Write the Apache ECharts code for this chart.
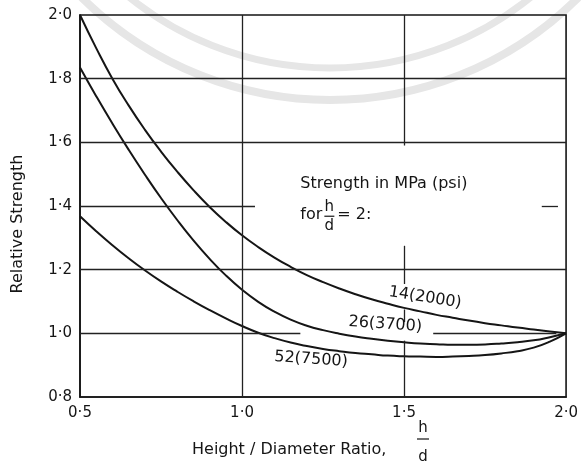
<!DOCTYPE html>
<html>
<head>
<meta charset="utf-8">
<title>Relative Strength vs Height / Diameter Ratio</title>
<script src="https://cdn.jsdelivr.net/npm/echarts@6/dist/echarts.min.js"></script>
<style>
  html, body { margin: 0; padding: 0; background: #ffffff; }
  #chart { width: 581px; height: 471px; }
</style>
</head>
<body>
<div id="chart"></div>
<script>
// Height / diameter ratio (h/d) sampled along each curve
const ratio = [0.5, 0.55, 0.6, 0.65, 0.7, 0.75, 0.8, 0.85, 0.9, 0.95, 1.0,
               1.05, 1.1, 1.15, 1.2, 1.25, 1.3, 1.35, 1.4, 1.45, 1.5,
               1.55, 1.6, 1.65, 1.7, 1.75, 1.8, 1.85, 1.9, 1.95, 2.0];

// Relative strength for each concrete strength class (at h/d = 2)
const strength14 = [2.0, 1.896, 1.8, 1.716, 1.64, 1.571, 1.508, 1.45, 1.397, 1.35, 1.308,
                    1.271, 1.238, 1.209, 1.183, 1.161, 1.141, 1.123, 1.107, 1.093, 1.08,
                    1.069, 1.058, 1.049, 1.04, 1.032, 1.025, 1.018, 1.012, 1.006, 1.0];
const strength26 = [1.835, 1.745, 1.659, 1.577, 1.499, 1.425, 1.356, 1.292, 1.234, 1.182, 1.137,
                    1.099, 1.068, 1.043, 1.024, 1.01, 0.999, 0.99, 0.983, 0.977, 0.972,
                    0.968, 0.966, 0.964, 0.964, 0.965, 0.968, 0.972, 0.978, 0.988, 1.0];
const strength52 = [1.368, 1.321, 1.277, 1.236, 1.198, 1.163, 1.131, 1.101, 1.073, 1.047, 1.023,
                    1.002, 0.985, 0.971, 0.96, 0.951, 0.944, 0.938, 0.934, 0.93, 0.928,
                    0.927, 0.926, 0.927, 0.929, 0.932, 0.937, 0.944, 0.955, 0.974, 1.0];

// Curve labels: MPa (psi)
const curveLabels = ['14(2000)', '26(3700)', '52(7500)'];
const noteTitle = 'Strength in MPa (psi)';
const xAxisTitle = 'Height / Diameter Ratio,';
const yAxisTitle = 'Relative Strength';

const INK = '#151515';
const FONT = '"DejaVu Sans", "Liberation Sans", sans-serif';

function pairs(ys) { return ratio.map((x, i) => [x, ys[i]]); }
function fmt(v) { return v.toFixed(1).replace('.', '\u00b7'); }

// Grid rules, drawn as segments so they break around the lettering
function hSeg(y, x1, x2) { return [{ coord: [x1, y] }, { coord: [x2, y] }]; }
function vSeg(x, y1, y2) { return [{ coord: [x, y1] }, { coord: [x, y2] }]; }
const gridRules = [
  hSeg(1.8, 0.5, 2.0),
  hSeg(1.6, 0.5, 2.0),
  hSeg(1.4, 0.5, 1.04), hSeg(1.4, 1.925, 1.975),
  hSeg(1.2, 0.5, 2.0),
  hSeg(1.0, 0.5, 1.18), hSeg(1.0, 1.59, 1.97),
  vSeg(1.0, 0.8, 2.0),
  vSeg(1.5, 1.59, 2.0), vSeg(1.5, 1.155, 1.275), vSeg(1.5, 1.035, 1.075), vSeg(1.5, 0.8, 0.977)
];

const chart = echarts.init(document.getElementById('chart'), null, { renderer: 'canvas' });

function curve(ys) {
  return {
    type: 'line',
    data: pairs(ys),
    smooth: 0.5,
    symbol: 'none',
    silent: true,
    lineStyle: { color: INK, width: 2 },
    z: 4
  };
}

chart.setOption({
  animation: false,
  backgroundColor: '#ffffff',
  grid: {
    left: 80, right: 11, top: 15, bottom: 74,
    show: true, borderColor: INK, borderWidth: 1.6, backgroundColor: 'transparent'
  },
  xAxis: {
    type: 'value', min: 0.5, max: 2.0, interval: 0.5,
    axisLine: { show: true, lineStyle: { color: INK, width: 1.6 } },
    axisTick: { show: false },
    splitLine: { show: false },
    axisLabel: { color: INK, fontFamily: FONT, fontSize: 15, margin: 9, formatter: fmt,
                 showMinLabel: true, showMaxLabel: true }
  },
  yAxis: {
    type: 'value', min: 0.8, max: 2.0, interval: 0.2,
    axisLine: { show: true, lineStyle: { color: INK, width: 1.6 } },
    axisTick: { show: false },
    splitLine: { show: false },
    axisLabel: { color: INK, fontFamily: FONT, fontSize: 15, margin: 8, formatter: fmt,
                 showMinLabel: true, showMaxLabel: true }
  },
  series: [
    curve(strength14),
    curve(strength26),
    curve(strength52),
    {
      type: 'line',
      data: [[0.5, 0.8]],
      symbol: 'none',
      silent: true,
      lineStyle: { opacity: 0 },
      z: 3,
      markLine: {
        silent: true,
        symbol: 'none',
        animation: false,
        label: { show: false },
        lineStyle: { color: '#222', width: 1.3, type: 'solid' },
        emphasis: { disabled: true },
        data: gridRules
      }
    }
  ]
});

// Lettering placed in data coordinates
function px(x, y) { return chart.convertToPixel({ gridIndex: 0 }, [x, y]); }
function text(str, p, opts) {
  return Object.assign({
    type: 'text', x: p[0], y: p[1], silent: true, z: 10,
    style: Object.assign({ text: str, fill: INK, font: '16px ' + FONT,
                           align: 'center', verticalAlign: 'middle' }, opts && opts.style)
  }, opts && opts.el);
}

const p14 = px(1.565, 1.112);
const p26 = px(1.442, 1.028);
const p52 = px(1.213, 0.918);
const note = px(1.18, 1.47);
const forP = px(1.18, 1.371);
const DEG = Math.PI / 180;

const graphics = [
  // faint watermark rings across the top
  { type: 'circle', z: -5, silent: true, shape: { cx: 330, cy: -252, r: 352 },
    style: { fill: 'none', stroke: '#e6e6e6', lineWidth: 8 } },
  { type: 'circle', z: -5, silent: true, shape: { cx: 330, cy: -252, r: 320 },
    style: { fill: 'none', stroke: '#e6e6e6', lineWidth: 7 } },

  text(curveLabels[0], p14, { el: { rotation: -9 * DEG } }),
  text(curveLabels[1], p26, { el: { rotation: -4 * DEG } }),
  text(curveLabels[2], p52, { el: { rotation: -4 * DEG } }),

  text(noteTitle, note, { style: { align: 'left' } }),
  text('for', forP, { style: { align: 'left' } }),
  text('h', [forP[0] + 29, forP[1] - 8], { style: { font: '15px ' + FONT } }),
  { type: 'line', silent: true, z: 10,
    shape: { x1: forP[0] + 24, y1: forP[1] + 1, x2: forP[0] + 34, y2: forP[1] + 1 },
    style: { stroke: INK, lineWidth: 1.2 } },
  text('d', [forP[0] + 29, forP[1] + 11], { style: { font: '15px ' + FONT } }),
  text('= 2:', [forP[0] + 37, forP[1]], { style: { align: 'left' } }),

  // axis titles
  text(yAxisTitle, [18, 224], { el: { rotation: Math.PI / 2 } }),
  text(xAxisTitle, [192, 450], { style: { align: 'left' } }),
  text('h', [423, 428], { style: { font: '15px ' + FONT } }),
  { type: 'line', silent: true, z: 10,
    shape: { x1: 417, y1: 439, x2: 429, y2: 439 },
    style: { stroke: INK, lineWidth: 1.2 } },
  text('d', [423, 457], { style: { font: '15px ' + FONT } })
];

chart.setOption({ graphic: graphics });
</script>
</body>
</html>
